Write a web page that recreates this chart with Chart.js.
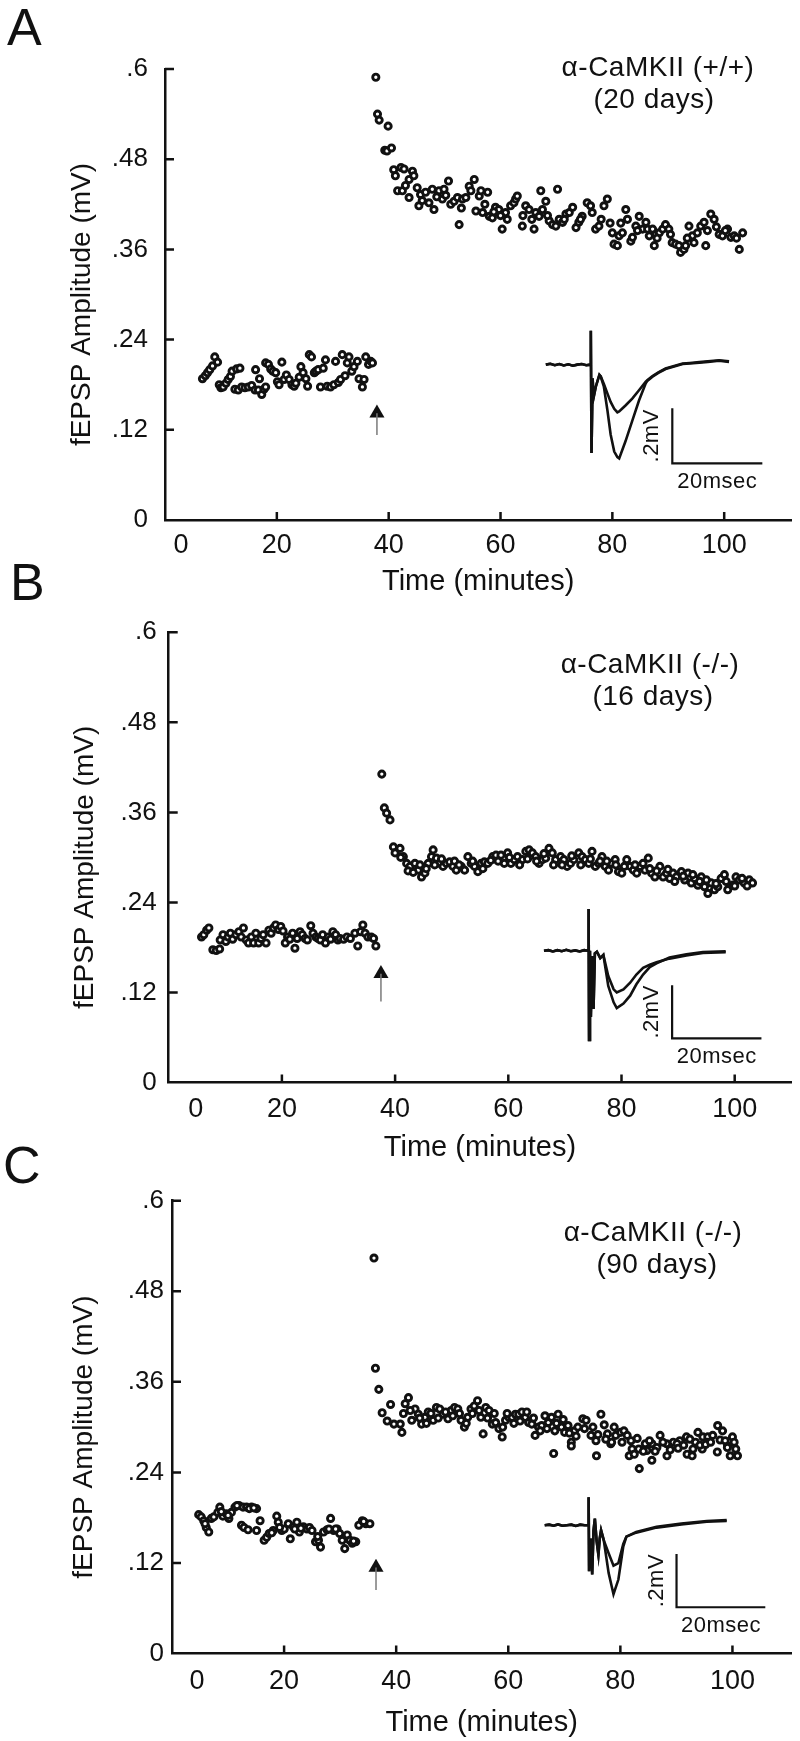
<!DOCTYPE html>
<html>
<head>
<meta charset="utf-8">
<script src="https://cdn.jsdelivr.net/npm/chart.js@4.4.1/dist/chart.umd.min.js"></script>
<style>
  html, body { margin: 0; padding: 0; background: #fff; }
  #fig { position: relative; width: 800px; height: 1741px; overflow: hidden; }
  #fig canvas { position: absolute; left: 0; }
</style>
</head>
<body>
<div id="fig">
  <canvas id="panelA" width="800" height="610" style="top:0px;width:800px;height:610px"></canvas>
  <canvas id="panelB" width="800" height="620" style="top:550px;width:800px;height:620px"></canvas>
  <canvas id="panelC" width="800" height="621" style="top:1120px;width:800px;height:621px"></canvas>
</div>
<script>
// axis ticks
const xTicks = [0, 20, 40, 60, 80, 100];
const yTicks = [0, 0.12, 0.24, 0.36, 0.48, 0.6];

// ---- panel A: alpha-CaMKII (+/+), 20 days (time in min, fEPSP amplitude in mV)
const aBaseT = [6.7,7.2,7.6,8.0,8.5,8.9,9.4,9.7,10.0,10.4,10.9,11.3,11.7,12.0,12.8,13.4,
  12.5,13.1,13.7,14.3,14.9,15.5,16.1,16.7,17.3,17.7,18.0,16.2,16.9,18.0,18.5,18.9,19.3,19.8,
  20.1,20.4,20.9,21.3,21.7,22.2,22.7,23.1,23.4,24.0,24.3,24.7,25.2,25.5,25.8,26.2,26.7,27.0,
  27.4,27.8,28.3,28.7,29.0,29.6,30.2,30.5,31.0,31.4,31.7,32.2,32.6,32.9,33.4,33.8,34.4,34.7,
  35.3,35.6,35.9,36.4,36.8,37.1];
const aBaseV = [.188,.192,.196,.200,.205,.217,.210,.180,.176,.177,.182,.187,.191,.198,.201,.202,
  .174,.173,.177,.176,.177,.179,.173,.173,.167,.174,.177,.200,.188,.209,.207,.201,.198,.196,
  .184,.180,.210,.187,.193,.187,.180,.178,.182,.190,.204,.196,.188,.178,.220,.217,.196,.198,
  .200,.177,.202,.213,.178,.177,.180,.211,.183,.187,.220,.192,.209,.217,.198,.204,.211,.188,
  .177,.187,.217,.207,.211,.209];
const aPostT = [
  37.7,38.0,38.3,39.3,39.7,39.9,40.5,40.9,41.2,41.6,
  42.2,42.45,42.75,43.65,43.65,44.25,44.5,45.1,45.4,45.7,
  46.6,47.2,47.8,48.1,49.0,49.6,49.9,50.7,51.1,51.7,
  52.3,52.6,53.2,53.8,54.4,54.7,55.3,55.6,56.2,56.5,
  56.8,57.7,58.0,58.55,59.1,59.7,60.3,60.9,61.2,61.8,
  62.4,62.7,63.0,63.9,64.5,65.1,66.0,66.3,66.9,67.2,
  67.5,68.1,68.7,69.3,69.9,70.2,70.5,71.1,71.7,72.3,
  72.9,73.5,74.0,74.6,75.5,76.1,76.4,77.0,77.6,78.5,
  79.1,80.0,80.3,80.9,81.2,81.8,82.4,82.7,83.3,83.6,
  84.2,84.8,85.4,86.0,86.3,86.6,87.2,87.5,87.8,88.4,
  89.0,89.5,90.1,90.7,91.3,91.9,92.2,92.8,93.1,93.7,
  94.3,94.6,95.2,95.8,96.4,96.7,97.6,98.2,99.1,99.7,
  100.6,101.2,101.8,102.7,103.3,
  43.0,46.0,48.6,50.2,53.0,57.2,58.8,60.0,64.0,65.6,
  68.4,71.4,74.3,78.0,79.6,81.5,84.5,88.0,90.4,93.4,
  97.0,98.6,100.2,102.2];
const aPostV = [
  .589,.540,.532,.492,.491,.524,.495,.466,.458,.438,
  .469,.438,.467,.453,.429,.464,.458,.442,.418,.433,
  .436,.422,.440,.413,.438,.427,.440,.451,.420,.424,
  .429,.393,.427,.429,.444,.438,.453,.411,.431,.438,
  .409,.436,.404,.402,.416,.413,.387,.409,.400,.418,
  .422,.427,.431,.391,.418,.413,.387,.409,.404,.438,
  .413,.424,.398,.393,.391,.440,.400,.396,.407,.409,
  .416,.389,.396,.404,.422,.418,.409,.387,.391,.418,
  .427,.382,.367,.365,.378,.382,.413,.400,.371,.376,
  .391,.404,.387,.396,.387,.378,.387,.365,.380,.382,
  .387,.393,.387,.369,.367,.365,.356,.360,.365,.391,
  .378,.369,.382,.391,.396,.365,.407,.400,.380,.378,
  .387,.376,.378,.360,.382,
  .445,.425,.430,.432,.415,.420,.410,.405,.405,.400,
  .405,.400,.400,.400,.395,.395,.385,.375,.380,.375,
  .385,.390,.385,.375];

// ---- panel B: alpha-CaMKII (-/-), 16 days
const bBaseT = [5.8,6.2,6.7,7.1,7.8,8.4,9.0,9.1,9.6,10.1,
  10.5,10.9,11.3,11.9,12.4,12.8,13.2,13.7,14.1,14.6,
  15.0,15.4,15.9,16.3,16.7,17.2,17.7,18.1,18.5,18.9,
  19.4,19.8,20.2,20.6,21.0,21.4,21.9,22.3,22.7,23.2,
  23.6,24.1,24.5,25.1,25.5,26.0,26.4,26.8,27.2,27.7,
  28.2,28.6,29.0,29.5,29.9,30.3,30.9,31.5,32.1,32.9,
  33.4,33.9,34.3,34.7,35.2,35.8,36.2,36.6];
const bBaseV = [.194,.197,.203,.206,.177,.176,.178,.190,.197,.188,
  .194,.199,.191,.197,.201,.194,.206,.190,.186,.194,
  .186,.199,.186,.192,.197,.186,.203,.199,.206,.210,
  .204,.208,.202,.186,.194,.191,.199,.179,.192,.201,
  .197,.192,.190,.209,.199,.194,.192,.190,.197,.186,
  .194,.191,.201,.197,.190,.192,.191,.194,.192,.199,
  .182,.201,.210,.199,.194,.194,.192,.182];
const bPostT = [
  37.65,38.1,38.5,39.1,39.7,40.0,
  40.87,41.46,42.04,42.63,43.5,44.09,44.67,45.26,45.84,46.43,
  46.72,47.31,47.89,48.47,49.06,49.64,50.23,50.81,51.69,52.28,
  52.86,53.45,54.03,54.62,55.2,55.78,56.37,57.25,57.83,58.71,
  59.29,59.88,60.46,61.05,61.63,62.51,63.1,63.68,64.26,64.85,
  65.43,66.02,66.6,67.19,67.77,68.36,69.24,69.82,70.4,70.99,
  71.57,72.45,73.04,73.62,74.21,74.79,75.38,75.96,76.55,77.13,
  77.71,78.3,78.88,79.47,80.05,80.93,81.52,82.1,82.69,83.27,
  84.15,84.73,85.32,85.9,86.78,87.36,87.95,88.53,89.12,89.7,
  90.58,91.17,91.75,92.34,92.92,93.5,94.09,94.67,95.26,95.84,
  96.43,97.01,97.6,98.18,98.77,99.65,100.23,100.81,101.69,102.57,
  103.15,
  41.0,42.3,43.2,44.4,45.5,47.0,48.2,50.5,51.3,53.7,
  55.5,56.9,58.2,60.2,62.0,63.4,65.0,66.3,68.0,69.5,
  71.2,72.8,74.5,76.2,77.4,79.0,80.5,82.4,83.8,85.0,
  86.2,88.2,89.4,90.9,92.6,93.8,95.0,96.7,98.5,100.0,
  101.3,102.2];
const bPostV = [
  .411,.366,.359,.350,.314,.306,
  .312,.301,.292,.288,.292,.283,.274,.279,.292,.301,
  .310,.299,.292,.288,.292,.294,.288,.283,.288,.283,
  .301,.292,.288,.281,.292,.294,.292,.301,.303,.303,
  .292,.306,.292,.297,.301,.297,.308,.310,.306,.301,
  .292,.297,.299,.312,.306,.297,.301,.297,.288,.292,
  .297,.306,.301,.297,.292,.308,.288,.292,.301,.288,
  .283,.292,.297,.281,.279,.297,.288,.283,.279,.288,
  .283,.299,.279,.274,.288,.274,.279,.272,.279,.274,
  .281,.270,.279,.266,.272,.263,.274,.261,.252,.266,
  .257,.261,.272,.277,.257,.263,.274,.270,.266,.270,
  .266,
  .300,.282,.280,.290,.285,.290,.298,.295,.290,.295,
  .285,.296,.295,.300,.290,.298,.295,.305,.290,.290,
  .302,.290,.298,.295,.295,.290,.288,.290,.292,.285,
  .282,.284,.268,.275,.277,.268,.270,.265,.268,.262,
  .272,.262];

// ---- panel C: alpha-CaMKII (-/-), 90 days
const cBaseT = [4.76,5.21,5.66,6.11,6.56,7.01,7.46,8.17,8.53,9.07,
  9.7,10.15,10.6,11.23,11.95,12.67,13.3,14.19,15.09,12.4,
  12.85,13.57,15.09,15.72,16.44,16.89,17.34,18.06,18.69,18.96,
  19.59,20.03,20.75,21.11,21.65,22.28,22.73,23.45,24.08,24.53,
  24.98,25.61,26.14,26.5,27.04,27.67,28.3,28.84,29.47,29.92,
  30.37,30.82,31.27,31.72,32.16,32.79,33.33,33.96,34.59,35.31,
  5.9,8.8,10.0,11.6,13.8,14.6,17.8,19.2,21.9,23.0,
  26.0,28.0,29.2,32.4,34.2];
const cBaseV = [.184,.181,.176,.167,.161,.179,.181,.187,.194,.182,
  .185,.179,.187,.194,.196,.194,.194,.194,.192,.170,
  .167,.164,.163,.176,.150,.154,.159,.163,.182,.174,
  .163,.165,.172,.152,.168,.174,.161,.168,.165,.167,
  .163,.148,.150,.141,.161,.164,.179,.163,.165,.159,
  .150,.139,.157,.150,.146,.148,.170,.176,.172,.172,
  .172,.188,.183,.196,.192,.193,.160,.167,.165,.166,
  .155,.165,.165,.149,.175];
const cPostT = [36.04,36.3,36.9,37.5,38.4,39.0,39.6,
  40.73,41.02,41.61,42.19,42.78,43.37,43.95,44.54,45.13,45.72,
  46.6,47.18,47.77,48.36,49.24,49.82,50.41,51.0,51.58,52.17,
  52.76,53.35,53.93,54.52,55.11,55.52,55.99,56.57,57.16,57.75,
  58.33,58.92,59.51,60.1,60.68,61.27,61.86,62.44,63.03,63.62,
  64.2,64.79,65.38,65.96,66.55,67.14,67.72,68.31,68.9,69.49,
  70.07,70.66,71.25,71.83,72.42,73.3,73.89,74.77,75.65,76.53,
  77.12,77.7,78.29,79.17,80.05,80.64,81.22,82.1,83.28,84.45,
  85.63,87.09,88.27,89.44,90.61,91.79,92.96,93.84,94.72,95.6,
  96.48,97.36,98.24,99.12,100.0,100.59,
  68.1,71.25,75.74,78.44,81.58,82.48,83.38,84.73,85.62,86.52,
  88.32,90.12,91.91,92.81,94.61,95.51,97.3,99.1,100.9,
  41.3,42.5,44.2,45.4,46.2,47.5,48.8,50.1,51.3,52.5,
  53.6,54.8,56.3,57.5,59.0,59.8,61.0,62.1,63.3,64.5,
  65.7,66.9,68.6,69.8,70.9,72.1,73.6,75.1,76.0,77.4,
  78.9,80.3,81.9,83.0,84.1,85.2,86.2,87.6,88.9,90.3,
  91.3,92.4,93.4,94.2,95.2,96.1,97.8,98.7,99.6,100.3];
const cPostV = [.524,.378,.350,.319,.308,.330,.304,
  .304,.293,.331,.339,.309,.324,.317,.304,.313,.320,
  .309,.326,.324,.317,.311,.322,.326,.324,.309,.300,
  .313,.324,.328,.335,.313,.291,.326,.322,.304,.306,
  .298,.287,.309,.313,.313,.317,.317,.320,.313,.306,
  .304,.289,.300,.302,.315,.306,.313,.295,.317,.300,
  .293,.302,.280,.295,.300,.311,.309,.289,.282,.317,
  .303,.291,.278,.289,.293,.295,.289,.271,.271,.278,
  .278,.289,.278,.280,.282,.287,.271,.293,.287,.287,
  .289,.302,.295,.275,.287,.271,
  .265,.275,.262,.280,.262,.264,.245,.269,.256,.273,
  .262,.278,.264,.262,.271,.280,.267,.273,.262,
  .318,.322,.312,.305,.318,.312,.320,.315,.318,.305,
  .318,.322,.312,.318,.300,.318,.305,.308,.320,.312,
  .295,.298,.305,.310,.292,.288,.298,.300,.290,.284,
  .300,.280,.282,.285,.268,.282,.268,.280,.270,.272,
  .276,.284,.280,.276,.277,.280,.283,.282,.262,.280];

// ---- inset field potentials (ms, mV relative to baseline): before (small) and after (large) tetanus
const traceAT = [0,1,2,3,4,5,6,7,8,9,9.9,10.0,10.15,10.4,10.6,11.1,11.9,12.2,12.9,13.7,
  14.4,15.2,15.9,16.3,17.7,19.2,20.7,22.2,22.6,23.7,25,26.6,28.5,30.4,32,34.1,36,38.5,40.7];
const traceASmall = [0,.003,-.002,.002,-.003,.001,-.004,0,.002,-.002,0,.123,-.32,-.05,-.12,-.08,-.037,-.043,-.07,-.105,
  -.135,-.16,-.173,-.17,-.148,-.123,-.093,-.062,-.056,-.041,-.028,-.014,-.005,.004,.006,.009,.012,.016,.012];
const traceALarge = [0,.003,-.002,.002,-.003,.001,-.004,0,.002,-.002,0,.123,-.32,-.05,-.12,-.08,-.037,-.043,-.08,-.167,
  -.253,-.315,-.335,-.34,-.278,-.204,-.13,-.068,-.058,-.044,-.03,-.016,-.007,.002,.004,.007,.01,.014,.01];
const traceBT = [0,1,2,3,4,5,6,7,8,9,9.9,10.0,10.1,10.3,10.5,10.8,11.1,11.4,11.85,12.6,13.3,
  14.4,15.6,16.3,17.8,19.3,20.7,22.2,23.7,25.2,28.1,31.9,35.6,40.7];
const traceBSmall = [0,.002,-.003,.002,-.002,.003,-.002,.001,-.003,.002,0,.157,-.337,0,-.25,-.02,-.22,-.01,-.004,-.028,-.016,
  -.096,-.146,-.158,-.146,-.121,-.09,-.065,-.053,-.044,-.03,-.018,-.009,-.006];
const traceBLarge = [0,.002,-.003,.002,-.002,.003,-.002,.001,-.003,.002,0,.157,-.337,0,-.25,-.02,-.22,-.01,-.004,-.028,-.016,
  -.133,-.195,-.217,-.2,-.17,-.127,-.09,-.062,-.048,-.026,-.014,-.005,-.002];
const traceCT = [0,1,2,3,4,5,6,7,8,9,9.8,9.9,10.0,10.4,10.7,11.0,11.3,11.7,12.1,12.4,12.7,13.3,
  14.4,15.5,16.6,17.7,18.4,20.6,25.2,30.8,36.5,41];
const traceCSmall = [0,.002,-.002,.003,-.002,0,.002,-.003,.002,0,0,.105,-.173,-.05,-.185,-.02,.025,-.06,-.111,-.05,-.019,-.056,
  -.105,-.152,-.142,-.07,-.043,-.025,-.006,.006,.016,.019];
const traceCLarge = [0,.002,-.002,.003,-.002,0,.002,-.003,.002,0,0,.105,-.173,-.05,-.185,-.02,.025,-.06,-.111,-.05,-.019,-.056,
  -.179,-.259,-.204,-.08,-.043,-.028,-.009,.003,.013,.016];

// tetanus arrow: [time, shaft bottom, head]
const arrowA = [37.9, 0.113, 0.142];
const arrowB = [37.5, 0.108, 0.145];
const arrowC = [36.4, 0.084, 0.114];

// scale bars: 20 msec, .2 mV
const barMs = 20, barMv = 0.2;

Chart.defaults.font.family = '"Liberation Sans", Arial, Helvetica, sans-serif';
Chart.defaults.color = '#111';

const ink = '#111';
const zip = (ts, vs) => ts.map((t, i) => ({ x: t, y: vs[i] }));

// inward tick marks on both axes
const inwardTicks = {
  id: 'inwardTicks',
  afterDraw(chart) {
    const { ctx, chartArea: a, scales: { x, y } } = chart;
    ctx.save();
    ctx.strokeStyle = ink;
    ctx.lineWidth = 2.5;
    ctx.beginPath();
    x.ticks.forEach(t => {
      if (t.value === 0) return;
      const px = x.getPixelForValue(t.value);
      ctx.moveTo(px, a.bottom);
      ctx.lineTo(px, a.bottom - 8);
    });
    y.ticks.forEach(t => {
      if (t.value === 0) return;
      const py = y.getPixelForValue(t.value);
      ctx.moveTo(a.left, py);
      ctx.lineTo(a.left + 9, py);
    });
    ctx.stroke();
    ctx.restore();
  }
};

// panel letter, genotype text, y title, the shifted "0" and scale bar labels
const panelText = {
  id: 'panelText',
  afterDraw(chart, args, opts) {
    const ctx = chart.ctx;
    const a = chart.chartArea;
    ctx.save();
    ctx.fillStyle = ink;
    opts.labels.forEach(l => {
      ctx.font = l.font;
      ctx.letterSpacing = l.spacing || '0px';
      ctx.textAlign = l.align || 'center';
      ctx.textBaseline = l.baseline || 'middle';
      ctx.fillText(l.text, l.x, l.y);
    });
    ctx.letterSpacing = '0px';
    ctx.textAlign = 'center';
    ctx.textBaseline = 'middle';
    // "0" of the time axis sits a little right of the origin in the original
    ctx.font = '27px "Liberation Sans", Arial, sans-serif';
    ctx.fillText('0', chart.scales.x.getPixelForValue(0) + opts.zeroShift, a.bottom + opts.xTickPad + 16.2);
    // y axis title
    ctx.save();
    ctx.font = '28px "Liberation Sans", Arial, sans-serif';
    ctx.translate(opts.yTitleX, (a.top + a.bottom) / 2 + 10);
    ctx.rotate(-Math.PI / 2);
    ctx.fillText('fEPSP Amplitude (mV)', 0, 0);
    ctx.restore();
    // scale bar labels
    const xi = chart.scales.xi, yi = chart.scales.yi;
    const bx0 = xi.getPixelForValue(opts.bar[0]);
    const bx1 = xi.getPixelForValue(opts.bar[0] + barMs);
    const by0 = yi.getPixelForValue(opts.bar[1]);
    const by1 = yi.getPixelForValue(opts.bar[1] + barMv);
    ctx.font = '22px "Liberation Sans", Arial, sans-serif';
    ctx.letterSpacing = '0.5px';
    ctx.fillText('20msec', (bx0 + bx1) / 2, by0 + 19);
    ctx.translate(bx0 - 20, (by0 + by1) / 2);
    ctx.rotate(-Math.PI / 2);
    ctx.fillText('.2mV', 0, 0);
    ctx.restore();
  }
};

function makePanel(p) {
  const ins = p.inset;
  const lineStyle = { type: 'line', showLine: true, fill: false, tension: 0, pointRadius: 0, pointHoverRadius: 0 };
  const dots = { pointRadius: 3.1, pointHoverRadius: 3.1, pointBorderWidth: 2.9, borderColor: ink, backgroundColor: '#fff' };
  new Chart(document.getElementById(p.id), {
    type: 'scatter',
    data: {
      datasets: [
        { data: zip(p.base[0], p.base[1]), ...dots },
        { data: zip(p.post[0], p.post[1]), ...dots },
        { ...lineStyle, data: [{ x: p.arrow[0], y: p.arrow[1] }, { x: p.arrow[0], y: p.arrow[2] }], borderColor: '#7a7a7a', borderWidth: 1.5 },
        { data: [{ x: p.arrow[0], y: p.arrow[2] }], pointStyle: 'triangle', pointRadius: 8.7, pointHoverRadius: 8.7, backgroundColor: ink, borderColor: ink, pointBorderWidth: 0 },
        { ...lineStyle, xAxisID: 'xi', yAxisID: 'yi', data: zip(p.trace[0], p.trace[1]), borderColor: ink, borderWidth: 2.6 },
        { ...lineStyle, xAxisID: 'xi', yAxisID: 'yi', data: zip(p.trace[0], p.trace[2]), borderColor: ink, borderWidth: 2.6 },
        { ...lineStyle, xAxisID: 'xi', yAxisID: 'yi', borderColor: ink, borderWidth: 2.2,
          data: [{ x: p.bar[0], y: p.bar[1] + barMv }, { x: p.bar[0], y: p.bar[1] }, { x: p.bar[0] + barMs, y: p.bar[1] }] }
      ]
    },
    options: {
      responsive: false,
      animation: false,
      devicePixelRatio: 1,
      events: [],
      layout: { padding: { top: p.area.top, right: p.area.right, left: 0, bottom: 0 } },
      plugins: {
        legend: { display: false },
        tooltip: { enabled: false },
        panelText: { labels: p.labels, bar: p.bar, zeroShift: p.area.zeroShift, xTickPad: p.area.xTickPad, yTitleX: p.area.yTitleX }
      },
      scales: {
        x: {
          type: 'linear', position: 'bottom', min: 0, max: p.xMax,
          afterFit: s => { s.height = p.area.xAxisHeight; },
          afterBuildTicks: s => { s.ticks = xTicks.map(v => ({ value: v })); },
          grid: { display: false, drawTicks: false },
          border: { display: true, width: 2.5, color: ink },
          ticks: { padding: p.area.xTickPad, font: { size: 27 }, color: ink, maxRotation: 0, autoSkip: false,
                   callback: v => v === 0 ? '' : String(v) },
          title: { display: true, text: 'Time (minutes)', font: { size: 29 }, color: ink, padding: { top: 0, bottom: p.area.xTitlePad } }
        },
        y: {
          type: 'linear', position: 'left', min: 0, max: 0.6,
          afterFit: s => { s.width = p.area.left; },
          afterBuildTicks: s => { s.ticks = yTicks.map(v => ({ value: v })); },
          grid: { display: false, drawTicks: false },
          border: { display: true, width: 2.5, color: ink },
          ticks: {
            padding: p.area.yTickPad, font: { size: 26 }, color: ink, autoSkip: false,
            callback: v => v === 0 ? '0' : String(Math.round(v * 100) / 100).replace(/^0/, '')
          },
          title: { display: false }
        },
        xi: { type: 'linear', position: 'bottom', display: false,
              min: (0 - ins.x0) / ins.kx, max: (p.xMax - ins.x0) / ins.kx },
        yi: { type: 'linear', position: 'left', display: false,
              min: (0 - ins.y0) / ins.ky, max: (0.6 - ins.y0) / ins.ky }
      }
    },
    plugins: [inwardTicks, panelText]
  });
}

const letterFont = '52px "Liberation Sans", Arial, sans-serif';
const noteFont = '28px "Liberation Sans", Arial, sans-serif';

makePanel({
  id: 'panelA', xMax: 112,
  base: [aBaseT, aBaseV], post: [aPostT, aPostV], arrow: arrowA,
  trace: [traceAT, traceASmall, traceALarge], bar: [28.1, -0.358],
  inset: { x0: 68.1, y0: 0.2067, kx: 0.805, ky: 0.367 },
  area: { left: 165, top: 69, right: 8, xAxisHeight: 90, xTickPad: 9, yTickPad: 17, xTitlePad: 11, yTitleX: 82, zeroShift: 16 },
  labels: [
    { text: 'A', x: 7, y: 45, font: letterFont, align: 'left', baseline: 'alphabetic' },
    { text: 'α-CaMKII (+/+)', x: 658, y: 68, font: noteFont, spacing: '0.5px' },
    { text: '(20 days)', x: 654, y: 100, font: noteFont, spacing: '0.5px' }
  ]
});

makePanel({
  id: 'panelB', xMax: 110,
  base: [bBaseT, bBaseV], post: [bPostT, bPostV], arrow: arrowB,
  trace: [traceBT, traceBSmall, traceBLarge], bar: [28.7, -0.331],
  inset: { x0: 66.3, y0: 0.1757, kx: 0.789, ky: 0.353 },
  area: { left: 168.7, top: 82.3, right: 5, xAxisHeight: 87.5, xTickPad: 11, yTickPad: 12, xTitlePad: 4.6, yTitleX: 85, zeroShift: 27 },
  labels: [
    { text: 'B', x: 10, y: 50, font: letterFont, align: 'left', baseline: 'alphabetic' },
    { text: 'α-CaMKII (-/-)', x: 650, y: 115, font: noteFont, spacing: '0.5px' },
    { text: '(16 days)', x: 653, y: 147, font: noteFont, spacing: '0.5px' }
  ]
});

makePanel({
  id: 'panelC', xMax: 110.5,
  base: [cBaseT, cBaseV], post: [cPostT, cPostV], arrow: arrowC,
  trace: [traceCT, traceCSmall, traceCLarge], bar: [29.7, -0.308],
  inset: { x0: 66.5, y0: 0.170, kx: 0.792, ky: 0.353 },
  area: { left: 172, top: 80.7, right: 0, xAxisHeight: 87.5, xTickPad: 12, yTickPad: 8, xTitlePad: 0.6, yTitleX: 84, zeroShift: 25 },
  labels: [
    { text: 'C', x: 3, y: 63, font: letterFont, align: 'left', baseline: 'alphabetic' },
    { text: 'α-CaMKII (-/-)', x: 653, y: 113, font: noteFont, spacing: '0.5px' },
    { text: '(90 days)', x: 657, y: 145, font: noteFont, spacing: '0.5px' }
  ]
});
</script>
</body>
</html>
